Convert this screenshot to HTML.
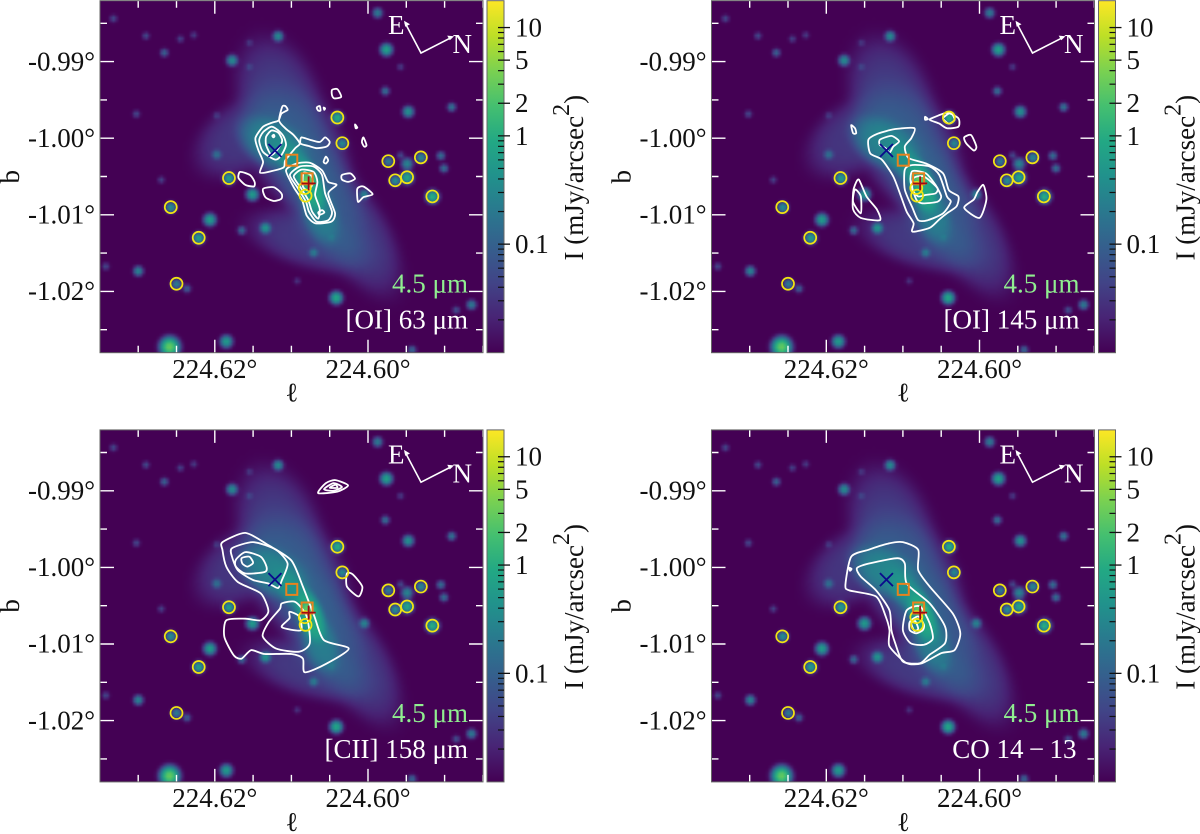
<!DOCTYPE html>
<html>
<head>
<meta charset="utf-8">
<title>4.5 micron map with far-infrared line contours</title>
<style>
html,body{margin:0;padding:0;background:#fff;width:1200px;height:834px;overflow:hidden}
#stage{position:relative;width:1200px;height:834px;font-family:"Liberation Serif","DejaVu Serif",serif}
canvas{position:absolute;display:block}
svg{position:absolute;left:0;top:0}
text{font-family:"Liberation Serif","DejaVu Serif",serif;font-size:27px;fill:#111}
</style>
</head>
<body>
<div id="stage"></div>
<script>
// ---- Data: all sky positions are offsets in milli-degrees from l=224.60, b=-1.00 ----
const lTickValues = [0.62, 0.60];
const lTickLabels = ['224.62°', '224.60°'];
const bTickValues = [-0.99, -1.00, -1.01, -1.02];
const bTickLabels = ['-0.99°', '-1.00°', '-1.01°', '-1.02°'];
const cbarLabelValues = [10, 5, 2, 1, 0.1];
const cbarLabelText = ['10', '5', '2', '1', '0.1'];
const cbarMinorValues = [9,8,7,6,4,3,0.9,0.8,0.7,0.6,0.5,0.4,0.3,0.2,0.09,0.08,0.07,0.06,0.05,0.04,0.03,0.02];
const cbarMax = 17.7;
const cbarMin = 0.0101;

const starDL = [-1.25,33.25,11.75,29,22.75,-2.4,26.6,17.75,15.5,-2.25,-5.25,-10.9,30.25,19.75,4,3.35,-2.65,-6.9,-5.1,-9.5,-9.9,-5.1,-3.55,-8.4,18.15,19.75,15.1,25.75,20.65,22.1,13.4,16.5,7.1,30,34.25,25,23.65,4.15,-13.5,18.5,25.9,-5.75,0.5,-4.25,27,-11.5,24.5,15.5,-4.25,4.75,9.25];
const starDB = [16.4,15.65,13.35,13.4,13.5,11.6,11.2,10.2,12.5,6.2,3.5,4.1,3.2,3,2.7,-0.65,-3,-2.5,-3.3,-2.25,-3.9,-5.1,-5.5,-7.6,-5.2,-2.1,-7.3,-9,-10.6,-13,-11.7,-12,-14.9,-17.3,-16.7,-19,-19.6,-20.8,-21.7,-26.5,-27.2,-27.6,-7.3,9.35,-5.4,-22.4,13,9.35,-2.2,-12.9,-18.6];
const starPeak = [0.22,0.045,0.37,0.05,0.03,0.75,0.1,0.37,0.027,0.15,0.45,0.18,0.045,0.03,1.2,0.37,0.25,0.37,0.3,0.15,0.15,0.9,0.45,1.2,0.75,0.15,0.6,0.45,0.67,0.75,0.52,0.13,0.22,0.3,0.045,0.25,0.09,0.9,0.22,0.6,3,0.12,0.3,0.03,0.037,0.06,0.037,0.037,0.045,0.09,0.022];
const starWidth = [0.3,0.25,0.3,0.24,0.24,0.34,0.26,0.32,0.24,0.26,0.32,0.26,0.25,0.24,0.32,0.3,0.3,0.3,0.34,0.26,0.26,0.35,0.3,0.35,0.32,0.3,0.35,0.3,0.35,0.32,0.32,0.26,0.29,0.29,0.25,0.3,0.26,0.35,0.29,0.35,0.5,0.26,0.3,0.24,0.24,0.25,0.24,0.24,0.25,0.26,0.24];

const nebulaDL   = [11.5,16.5,9.5,6,1.5,7.5,12.25,9.5,7.5,7.85,6.25];
const nebulaDB   = [5,0.2,-1,-7.6,-12.4,-13.3,-0.65,-3.3,-6.3,-5.4,-9.8];
const nebulaPeak = [0.025,0.022,0.05,0.045,0.025,0.025,0.2,0.22,0.7,2,0.15];
const nebulaLong = [5.2,4.2,5.5,6,5.5,5.2,3,2.5,2.2,0.55,2.6];
const nebulaWide = [3.2,2.7,3.5,2.8,2.6,2.2,1.8,1.1,1,0.45,1.4];
const nebulaTilt = [70,-35,60,65,60,15,30,50,70,0,70];

const ysoDL = [4,3.35,-2.65,-6.9,-3.55,-5.1,-8.4,18.15,25.75,22.1,25,8.25,8.15];
const ysoDB = [2.7,-0.65,-3,-2.5,-5.5,-5.1,-7.6,-5.2,-9,-13,-19,-6.5,-7.5];
const crossPos = [12.15,-1.6];
const plusPos = [7.75,-5.9];
const squareDL = [9.95,7.95];
const squareDB = [-2.87,-5.3];

const contoursOI63 = [
 [[10.8,4.2],[10.5,3.7],[11.3,3.2],[11.7,2.3],[12.6,2],[13.7,1.5],[14.7,0],[14.3,-1.6],[13.7,-3.1],[14.1,-4.5],[12.6,-4.3],[11,-3.8],[10.8,-2.9],[9.5,-1.3],[8.9,-0.7],[9.7,0.4],[10.8,1.3],[11.6,2.3],[11.2,4.1]],
 [[12.6,1.5],[13.7,0.8],[14.2,-0.3],[13.7,-1.8],[12.1,-2.8],[11.3,-2.2],[10.7,-0.9],[11,0.2],[11.7,1]],
 [[12.6,1],[13.3,0.2],[13.3,-0.9],[12.6,-2.2],[11.7,-1.3],[11.2,-0.3],[11.7,0.7]],
 [[12.5,0.3],[12.3,0.45],[12.2,0.25],[12.35,0.1]],
 [[8.7,0.1],[7.6,-0.2],[6.3,-0.5],[5.6,0.1],[5,-0.5],[5.4,-1.1],[6.7,-1.3],[7.8,-1],[8.8,-0.7]],
 [[5.5,-2.4],[5.2,-2.9],[5.5,-3.3],[5.8,-3.1]],
 [[4.7,6.3],[4,6.4],[3.5,5.4],[4.4,5.2],[4.7,5.6]],
 [[6.7,4],[6.3,4.2],[6.2,3.6],[6.5,3.6]],
 [[5.8,4],[5.6,3.9],[5.7,3.7]],
 [[1.7,1.8],[1.4,1.4],[1.6,1.3]],
 [[0.6,0.1],[0.2,-0.9],[0.5,-1.1],[0.8,-0.5]],
 [[16.7,-4.4],[15.4,-4.8],[14.8,-5.7],[14.9,-6.3],[16,-6.1],[16.9,-5.2]],
 [[13.7,-6.6],[12.3,-6.4],[11.3,-7.2],[11.3,-7.9],[12.3,-8.2],[13.4,-7.7]],
 [[3.4,-4.8],[2.3,-4.6],[1.7,-5.3],[2.6,-5.7],[3.4,-5.4]],
 [[1.4,-6.6],[0.6,-6.3],[-0.6,-7.3],[0.6,-7.7],[1.3,-8.3]],
 [[10.7,-4.2],[9.3,-3.3],[7.6,-3.2],[6,-4.2],[5.2,-5.7],[4.1,-6.1],[5.2,-7.2],[4.3,-9.8],[4.8,-10.9],[6.9,-11.1],[8,-10.1],[8.6,-8.1],[9.7,-6.4]],
 [[10.2,-4.8],[8.9,-3.7],[7.1,-3.7],[6,-4.8],[5.6,-7.2],[4.7,-9.6],[5.2,-10.7],[6.7,-10.9],[7.7,-9.6],[8.1,-8.3],[9.1,-6.6]],
 [[9.7,-5],[8.7,-4.1],[7.1,-4.4],[6.6,-5.7],[6.9,-7.4],[6.3,-9.2],[6.5,-10.5],[7.3,-9.6],[7.8,-8.1],[8.7,-6.6]],
 [[8.4,-4.5],[7.4,-4.9],[7.2,-5.9],[7.8,-6.8],[8.5,-6.3]],
 [[6.5,-9.7],[6,-9.4],[5.7,-9.7],[6.3,-10]]
];
const contoursOI145 = [
 [[14.5,-0.2],[13.25,0.6],[11,1.2],[8.5,1.3],[8.9,0],[9.75,-1.1],[9.25,-2.6],[7,-3.3],[4.75,-4.6],[4,-6.8],[2.75,-7.6],[3,-8.9],[4.25,-9.8],[5.25,-10.6],[6.5,-11.7],[8.75,-12.2],[8.6,-11.1],[9.5,-9.6],[10.25,-7.6],[11.25,-5],[12.75,-2.8],[14.25,-2]],
 [[13,-0.2],[11.5,0.3],[10.5,-0.4],[11.25,-1.1],[11.75,-1.9],[12.25,-1.3],[13,-0.9]],
 [[9.75,-4.1],[8.75,-3.5],[6.5,-3.7],[5.25,-4.8],[4.25,-7.6],[3.75,-8.3],[4.75,-9.8],[6.75,-10.7],[8,-10.7],[8.75,-9.1],[9.75,-6.7]],
 [[9,-5.7],[8.75,-4.3],[7,-4.6],[5.75,-6.1],[5,-7.6],[5.5,-8.3],[7.5,-8.5],[8.25,-8]],
 [[8.6,-5.2],[7.25,-5],[5.5,-6.5],[5.75,-7.2],[7,-7.4],[8,-7.6],[8.75,-6.7]],
 [[6,2.7],[4.25,3.3],[2.75,2.6],[2.75,1.5],[4.25,1.3],[5.25,1.9],[6.5,2.4]],
 [[4.75,2.6],[3.75,3.3],[3.25,2.4],[4,1.9]],
 [[7.1,2.8],[6.75,2.5],[7.1,2.4]],
 [[16.75,1.7],[16.25,1.3],[16.1,0.65],[16.5,0.65]],
 [[2,0.1],[1.1,0.4],[0.4,-1.1],[0.75,-1.6],[1.75,-0.65]],
 [[16.25,-6.1],[15.75,-5.4],[14.75,-7.6],[13.4,-9.3],[13,-10.7],[15.5,-10.4],[16.5,-9.3],[16.5,-7.1]],
 [[16.25,-6.7],[15.5,-7.6],[15.5,-9.8],[16.5,-8.3]],
 [[-0.5,-6.1],[-0.9,-8],[0,-10.4],[2,-9.1],[0.75,-8],[0.25,-7]]
];
const contoursCII158 = [
 [[19,3.3],[16,4.5],[13,2.9],[10,0.9],[8.5,-2.5],[7,-6.4],[5.75,-9.5],[2.5,-10.6],[5.5,-12.6],[8.25,-13.7],[8.5,-11.9],[10,-11.3],[13.5,-11.3],[15.25,-10.8],[16.5,-11.9],[17.5,-11.5],[18.75,-9.1],[18.5,-6.9],[16,-6.7],[14,-6.9],[13,-5.7],[14,-3.4],[17,-1.9],[18.5,0.1],[19,2.26]],
 [[17.75,2.5],[15,3.3],[12,2.3],[10.5,0.5],[11.25,-1.7],[11.75,-2.7],[13,-2.1],[15,-1.65],[17,-0.35],[17.75,1.4]],
 [[17.25,1],[16,2],[14,1.4],[13.25,0.1],[13.5,-0.6],[16,-0.8],[17.25,0.1]],
 [[16.5,1.2],[15.5,1.4],[15,0.6],[15.75,0.1],[16.4,0.5]],
 [[11.25,-4.7],[9.5,-4.5],[8,-6.4],[7.6,-9.9],[9,-11],[12,-10.6],[13.75,-9],[13,-7.2],[11.5,-5.4]],
 [[10.25,-5.8],[9,-6.4],[8.75,-8.2],[11.25,-7.8],[10.25,-6.65]],
 [[2.75,-0.8],[2,-0.9],[0.75,-2.5],[1.25,-3.8],[2.75,-2.5]],
 [[6.5,9.7],[5.5,11],[4.25,11.4],[2.6,10.7],[4,9.9]],
 [[5.75,10.2],[4.5,11],[3.4,10.5],[4.5,10]],
 [[5,10.4],[4.25,10.8],[4,10.4]]
];
const contoursCO = [
 [[17.5,-2.3],[16.75,1.4],[14.5,2.3],[12,3.1],[10,3.3],[8,2.3],[8,-0.35],[6.5,-2.5],[3.5,-6],[2.5,-8.6],[3.25,-10.8],[5,-11.2],[7.5,-12.5],[9.5,-12.5],[11.75,-10.3],[11.75,-8.2],[12.25,-6.4],[13.5,-3.8],[17,-3]],
 [[16,-0.1],[14.5,0.5],[10.75,1.2],[9.75,0.5],[9.5,-2.1],[6.5,-4.7],[4.5,-7.7],[4.5,-9.9],[6.5,-11.4],[7.75,-12.5],[10,-12.3],[11,-9.9],[11.5,-8.2],[11.75,-5.6],[13.5,-3],[15.5,-1.2]],
 [[9.5,-5.6],[7.75,-5.1],[6.5,-7.3],[6.1,-9.3],[7.25,-10.1],[9,-9.9],[10,-8.2]],
 [[9.1,-7.1],[8,-6.4],[7.25,-7.5],[7.4,-8.2],[8.25,-8.6],[9.1,-8.2]],
 [[8.9,-7.3],[8.4,-7],[8,-8],[8.5,-8.3]],
 [[17,-0.05],[16.7,-0.2],[16.9,-0.45]]
];
const lineLabels = ['[OI] 63 μm', '[OI] 145 μm', '[CII] 158 μm', 'CO 14\u2009\u2212\u200913'];
const bandLabel = '4.5 μm';
const panelContours = [contoursOI63, contoursOI145, contoursCII158, contoursCO];

// ---- Layout ----
const panelX = [100, 711.5, 100, 711.5];
const panelY = [0.7, 0.7, 429.9, 429.9];
const panelW = 383, panelH = 352, pxPerMdeg = 7.66;
const originX = 268, originY = 137.5;
const NS = 'http://www.w3.org/2000/svg';
const stage = document.getElementById('stage');
const svg = document.createElementNS(NS, 'svg');
svg.setAttribute('width', 1200);
svg.setAttribute('height', 834);



// axis functions, panel-relative
function xOf(dl) { return originX - dl * pxPerMdeg; }
function yOf(db) { return originY - db * pxPerMdeg; }
function dlAt(x) { return (originX - x) / pxPerMdeg; }
function dbAt(y) { return (originY - y) / pxPerMdeg; }
const decadePx = 108.3;
function cbarY(v) { return (Math.log10(cbarMax) - Math.log10(v)) * decadePx; }

function el(parent, tag, attrs) {
  const e = document.createElementNS(NS, tag);
  for (const k in attrs) e.setAttribute(k, attrs[k]);
  parent.appendChild(e);
  return e;
}

// ---- Colormap (viridis) ----
const viridis = [[68,1,84],[72,36,117],[65,68,135],[53,95,141],[42,120,142],[33,145,140],[34,168,132],[68,191,112],[122,209,81],[189,223,38],[253,231,37]];
function cmap(t) {
  t = Math.max(0, Math.min(1, t)) * (viridis.length - 1);
  const i = Math.min(viridis.length - 2, Math.floor(t)), f = t - i;
  return viridis[i].map((c, k) => c + (viridis[i + 1][k] - c) * f);
}

// ---- Shared image ----
const cell = 3;
const imgW = Math.ceil(panelW / cell), imgH = Math.ceil(panelH / cell);
const base = document.createElement('canvas');
base.width = imgW; base.height = imgH;
(function paint() {
  const ctx = base.getContext('2d');
  const im = ctx.createImageData(imgW, imgH);
  const tilts = nebulaTilt.map(a => a * Math.PI / 180);
  for (let j = 0; j < imgH; j++) {
    for (let i = 0; i < imgW; i++) {
      const dl = dlAt((i + 0.5) * cell), db = dbAt((j + 0.5) * cell);
      let v = cbarMin;
      for (let s = 0; s < starPeak.length; s++) {
        const a = dl - starDL[s], b = db - starDB[s], w = starWidth[s];
        const r = (a * a + b * b) / (2 * w * w);
        if (r < 14) v += starPeak[s] * Math.exp(-r);
      }
      for (let n = 0; n < nebulaPeak.length; n++) {
        const px = -(dl - nebulaDL[n]), py = -(db - nebulaDB[n]);
        const c = Math.cos(tilts[n]), sn = Math.sin(tilts[n]);
        const u = (px * c + py * sn) / nebulaLong[n], w = (-px * sn + py * c) / nebulaWide[n];
        const q = (u * u + w * w) / 2;
        v += nebulaPeak[n] * Math.exp(-q * q);
      }
      const t = Math.log10(v / cbarMin) / Math.log10(cbarMax / cbarMin);
      const col = cmap(t);
      const o = (j * imgW + i) * 4;
      im.data[o] = col[0]; im.data[o + 1] = col[1]; im.data[o + 2] = col[2]; im.data[o + 3] = 255;
    }
  }
  ctx.putImageData(im, 0, 0);
})();

function closedPath(pts) {
  const P = pts.map(p => [xOf(p[0]), yOf(p[1])]);
  const n = P.length;
  let d = 'M' + P[0][0].toFixed(1) + ' ' + P[0][1].toFixed(1);
  for (let i = 0; i < n; i++) {
    const p0 = P[(i - 1 + n) % n], p1 = P[i], p2 = P[(i + 1) % n], p3 = P[(i + 2) % n];
    const k = 0.12;
    d += 'C' + (p1[0] + (p2[0] - p0[0]) * k).toFixed(1) + ' ' + (p1[1] + (p2[1] - p0[1]) * k).toFixed(1) + ' ' +
         (p2[0] - (p3[0] - p1[0]) * k).toFixed(1) + ' ' + (p2[1] - (p3[1] - p1[1]) * k).toFixed(1) + ' ' +
         p2[0].toFixed(1) + ' ' + p2[1].toFixed(1);
  }
  return d + 'Z';
}

// ---- Colorbar gradient ----
const defs = el(svg, 'defs', {});
const grad = el(defs, 'linearGradient', { id: 'cbarGrad', x1: 0, y1: 1, x2: 0, y2: 0 });
viridis.forEach((c, i) => {
  el(grad, 'stop', { offset: i / (viridis.length - 1), 'stop-color': 'rgb(' + c.join(',') + ')' });
});

// ---- Panels ----
panelX.forEach((px, idx) => {
  const py = panelY[idx];
  const cv = document.createElement('canvas');
  cv.width = imgW; cv.height = imgH;
  cv.getContext('2d').drawImage(base, 0, 0);
  cv.style.left = px + 'px';
  cv.style.top = py + 'px';
  cv.style.width = (imgW * cell) + 'px';
  cv.style.height = (imgH * cell) + 'px';
  cv.style.clipPath = 'inset(0 ' + (imgW * cell - panelW) + 'px ' + (imgH * cell - panelH) + 'px 0)';
  
  
  stage.appendChild(cv);

  const g = el(svg, 'g', { transform: 'translate(' + px + ' ' + py + ')' });
  
  

  // contours
  const cg = el(g, 'g', { fill: 'none', stroke: '#fff', 'stroke-width': 1.8, 'stroke-linejoin': 'round' });
  
  
  panelContours[idx].forEach(c => {
    const p = el(cg, 'path', { d: closedPath(c) });
    
    
  });

  // markers
  ysoDL.forEach((dl, i) => {
    const c = el(g, 'circle', { cx: xOf(dl), cy: yOf(ysoDB[i]), r: 6, fill: 'none', stroke: '#f2e512', 'stroke-width': 1.7 });
    
    
  });
  squareDL.forEach((dl, i) => {
    const r = el(g, 'rect', { x: xOf(dl) - 5.5, y: yOf(squareDB[i]) - 5.5, width: 11, height: 11, fill: 'none', stroke: '#e8821e', 'stroke-width': 2 });
    
    
  });
  const cx = xOf(crossPos[0]), cy = yOf(crossPos[1]);
  const xm = el(g, 'path', { d: 'M' + (cx - 6.5) + ' ' + (cy - 6.5) + 'L' + (cx + 6.5) + ' ' + (cy + 6.5) + 'M' + (cx - 6.5) + ' ' + (cy + 6.5) + 'L' + (cx + 6.5) + ' ' + (cy - 6.5), stroke: '#0a0a8c', 'stroke-width': 1.8, fill: 'none' });
  
  
  const ax = xOf(plusPos[0]), ay = yOf(plusPos[1]);
  const pm = el(g, 'path', { d: 'M' + (ax - 7) + ' ' + ay + 'L' + (ax + 7) + ' ' + ay + 'M' + ax + ' ' + (ay - 7) + 'L' + ax + ' ' + (ay + 7), stroke: '#a00a14', 'stroke-width': 1.8, fill: 'none' });
  
  

  // compass
  const comp = el(g, 'g', {});
  
  
  const oX = 321, oY = 52.3, eX = 304, eY = 20, nX = 354, nY = 35.5;
  const cl = el(comp, 'path', { d: 'M' + (eX + 1) + ' ' + (eY + 2) + 'L' + oX + ' ' + oY + 'L' + (nX - 2) + ' ' + (nY + 1), fill: 'none', stroke: '#fff', 'stroke-width': 1.6 });
  
  
  const h1 = el(comp, 'path', { d: 'M' + eX + ' ' + eY + 'l6 3.6l-4.8 2.4z', fill: '#fff' });
  
  
  const h2 = el(comp, 'path', { d: 'M' + nX + ' ' + nY + 'l-6.8 -0.6l2.6 4.7z', fill: '#fff' });
  
  
  const tE = el(comp, 'text', { x: 288, y: 33.5 });
  tE.setAttribute('style', 'fill:#fff');
  
  
  tE.textContent = 'E';
  const tN = el(comp, 'text', { x: 352.5, y: 52.5 });
  tN.setAttribute('style', 'fill:#fff');
  
  
  tN.textContent = 'N';

  // ticks inside frame
  const tg = el(g, 'g', { stroke: '#fff', 'stroke-width': 1.4 });
  
  
  for (let k = -3; k <= 6; k++) {
    const dl = 5 * k;
    const x = xOf(dl);
    if (x <= 0 || x >= panelW) continue;
    const len = (k % 4 === 0) ? 13 : 7;
    const t1 = el(tg, 'path', { d: 'M' + x + ' 0v' + len + 'M' + x + ' ' + panelH + 'v-' + len });
    
    
  }
  for (let k = -5; k <= 3; k++) {
    const db = 5 * k;
    const y = yOf(db);
    if (y <= 0 || y >= panelH) continue;
    const len = (k % 2 === 0) ? 14 : 7;
    const t2 = el(tg, 'path', { d: 'M0 ' + y + 'h' + len + 'M' + panelW + ' ' + y + 'h-' + len });
    
    
  }
  const fr = el(g, 'rect', { x: 0, y: 0, width: panelW, height: panelH, fill: 'none', stroke: '#666', 'stroke-width': 1 });
  
  

  // tick labels
  lTickValues.forEach((v, i) => {
    const t = el(g, 'text', { x: xOf((v - 0.60) * 1000), y: 378 - 0.7, 'text-anchor': 'middle' });
    
    
    t.textContent = lTickLabels[i];
  });
  bTickValues.forEach((v, i) => {
    const t = el(g, 'text', { x: -5, y: yOf((v + 1.00) * 1000) + 8.7, 'text-anchor': 'end' });
    
    
    t.textContent = bTickLabels[i];
  });
  const xl = el(g, 'text', { x: 192, y: 401, 'text-anchor': 'middle' });
  
  
  xl.textContent = 'ℓ';
  const yl = el(g, 'text', { transform: 'translate(-81 176) rotate(-90)', 'text-anchor': 'middle' });
  
  
  yl.textContent = 'b';

  // annotations
  const t45 = el(g, 'text', { x: 368, y: 292, 'text-anchor': 'end' });
  t45.setAttribute('style', 'fill:#90ee90');
  
  
  t45.textContent = bandLabel;
  const tl = el(g, 'text', { x: idx === 3 ? 365 : 368, y: 328, 'text-anchor': 'end' });
  tl.setAttribute('style', 'fill:#fff');
  
  
  tl.textContent = lineLabels[idx];

  // colorbar
  const cb = el(g, 'g', { transform: 'translate(387 0)' });
  
  
  const cr = el(cb, 'rect', { x: 0, y: 0, width: 17, height: panelH, fill: 'url(#cbarGrad)', stroke: '#666', 'stroke-width': 1 });
  
  
  cbarMinorValues.forEach(v => {
    const y = cbarY(v);
    const m = el(cb, 'path', { d: 'M11 ' + y + 'H17', stroke: '#111', 'stroke-width': 1.2 });
    
    
  });
  cbarLabelValues.forEach((v, i) => {
    const y = cbarY(v);
    const m = el(cb, 'path', { d: 'M11 ' + y + 'H23', stroke: '#111', 'stroke-width': 1.3 });
    
    
    const t = el(cb, 'text', { x: 28, y: y + 9 });
    
    
    t.textContent = cbarLabelText[i];
  });
  const ct = el(g, 'text', { transform: 'translate(483 177) rotate(-90)', 'text-anchor': 'middle' });
  
  
  ct.appendChild(document.createTextNode('I (mJy/arcsec'));
  const sup = el(ct, 'tspan', { dy: -14, 'font-size': 24 });
  sup.textContent = '2';
  const rest = el(ct, 'tspan', { dy: 14 });
  rest.textContent = ')';
});
stage.appendChild(svg);
</script>
</body>
</html>
